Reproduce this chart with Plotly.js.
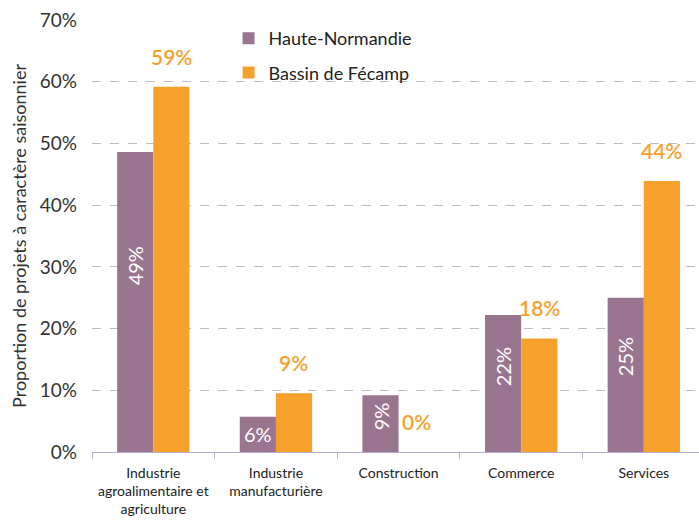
<!DOCTYPE html>
<html><head><meta charset="utf-8">
<script src="https://cdn.plot.ly/plotly-3.0.1.min.js"></script>
<style>html,body{margin:0;padding:0;background:#fff}#chart{width:699px;height:524px}</style>
</head><body><div id="chart"></div>
<script>
const categories = ["Industrie<br>agroalimentaire et<br>agriculture", "Industrie<br>manufacturière", "Construction", "Commerce", "Services"];
const hauteNormandie = [48.6, 5.7, 9.2, 22.2, 25.0];
const bassinFecamp = [59.2, 9.5, 0, 18.4, 43.9];
const hnLabels = ["49%", "6%", "9%", "22%", "25%"];
const bfLabels = ["59%", "9%", "0%", "18%", "44%"];

const purple = "#9a758f", orange = "#f5a12c";
const FONT = "Lato, 'Open Sans', sans-serif";

const traces = [
  {type: "bar", name: "Haute-Normandie", x: categories, y: hauteNormandie, marker: {color: purple}, legendgroup: "a", hoverinfo: "none"},
  {type: "bar", name: "Bassin de Fécamp", x: categories, y: bassinFecamp, marker: {color: orange}, legendgroup: "b", hoverinfo: "none"}
];

const annotations = [];
categories.forEach((c, i) => {
  const small = hauteNormandie[i] < 8;
  annotations.push({x: c, y: small ? hauteNormandie[i] / 2 : hauteNormandie[i] * 0.62, xref: "x", yref: "y", xshift: -18,
    text: hnLabels[i], showarrow: false, textangle: small ? 0 : -90,
    font: {family: FONT, size: 20, color: "#ffffff"}});
  annotations.push({x: c, y: bassinFecamp[i], xref: "x", yref: "y", xshift: 18, yshift: 16, yanchor: "bottom",
    text: bfLabels[i], showarrow: false,
    font: {family: FONT, size: 21, color: orange, weight: 600}});
});

const layout = {
  width: 699, height: 524,
  margin: {l: 92, r: 0, t: 20, b: 72},
  paper_bgcolor: "#fff", plot_bgcolor: "#fff",
  font: {family: FONT, color: "#333"},
  barmode: "group", bargap: 0.41, bargroupgap: 0,
  showlegend: true,
  legend: {x: 0.225, y: 1.0, xanchor: "left", yanchor: "top", bgcolor: "rgba(0,0,0,0)",
    font: {family: FONT, size: 18, color: "#222"}, tracegroupgap: 8},
  xaxis: {range: [-0.5, 4.45], showgrid: false, showline: true, linecolor: "#b9abcc", linewidth: 1,
    ticks: "outside", tickson: "boundaries", ticklen: 6, tickcolor: "#b9abcc", ticklabelstandoff: 8,
    tickfont: {family: FONT, size: 14, color: "#222"}, fixedrange: true},
  yaxis: {range: [0, 70], dtick: 10, ticksuffix: "%", showgrid: true, gridcolor: "#bdbdbd", griddash: "dash",
    zeroline: false, showline: false, tickfont: {family: FONT, size: 19, color: "#333"}, ticklabelstandoff: 14,
    title: {text: "Proportion de projets à caractère saisonnier", font: {family: FONT, size: 18, color: "#333"}, standoff: 8}},
  annotations: annotations
};

Plotly.newPlot("chart", traces, layout, {displayModeBar: false, staticPlot: true});
</script></body></html>
